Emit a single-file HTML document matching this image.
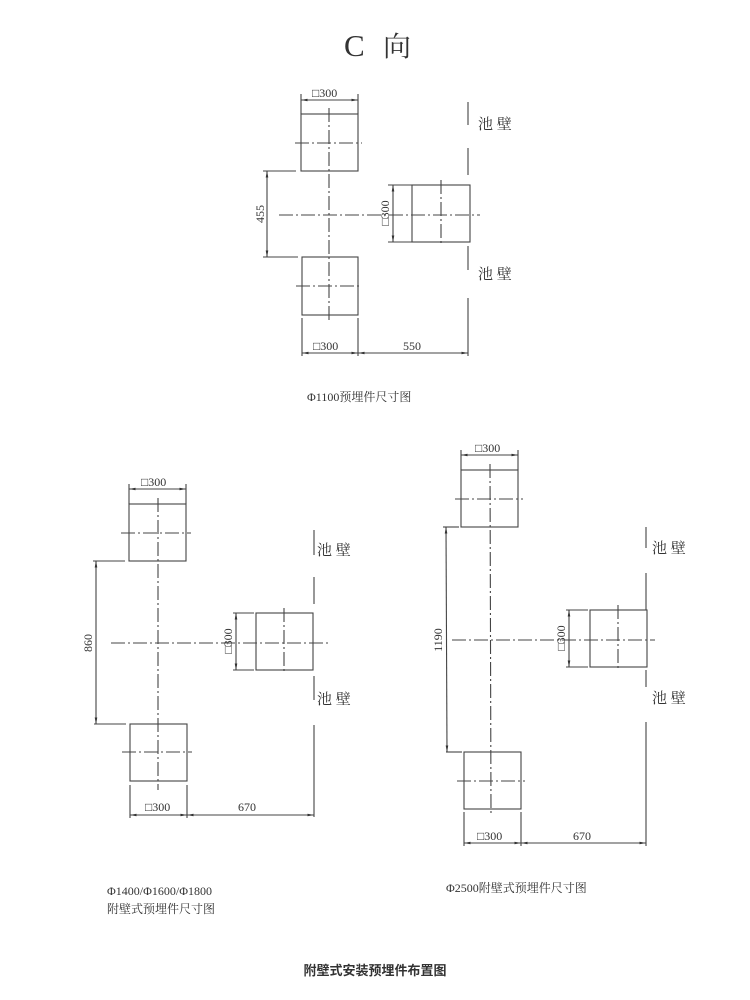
<!DOCTYPE html>
<html><head><meta charset="utf-8"><style>
body{margin:0;background:#fff}
svg{display:block}
text{font-family:"Liberation Serif","Noto Serif CJK SC",serif;fill:#333}
</style></head><body>
<svg width="750" height="1000" viewBox="0 0 750 1000" xmlns="http://www.w3.org/2000/svg">
<defs>
<marker id="a" viewBox="0 0 10 10" refX="10" refY="5" markerWidth="6" markerHeight="6" orient="auto-start-reverse"><path d="M0,3L10,5L0,7z" fill="#333"/></marker>
</defs>
<g stroke="#444" stroke-width="1.1" fill="none">
<!-- Diagram 1 -->
<rect x="301" y="114" width="57" height="57"/>
<rect x="412" y="185" width="58" height="57"/>
<rect x="302" y="257" width="56" height="58"/>
<g stroke-dasharray="14,3,2,3">
<line x1="329" y1="108" x2="329" y2="320"/>
<line x1="279" y1="215" x2="480" y2="215"/>
<line x1="295" y1="143" x2="362" y2="143"/>
<line x1="296" y1="286" x2="362" y2="286"/>
<line x1="441" y1="180" x2="441" y2="246"/>
</g>
<line x1="468" y1="102" x2="468" y2="125"/><line x1="468" y1="148" x2="468" y2="175"/>
<line x1="468" y1="246" x2="468" y2="270"/><line x1="468" y1="298" x2="468" y2="356"/>
<line x1="301" y1="94" x2="301" y2="114"/><line x1="358" y1="94" x2="358" y2="114"/>
<line x1="301" y1="100" x2="358" y2="100" marker-start="url(#a)" marker-end="url(#a)"/>
<line x1="263" y1="171" x2="296" y2="171"/><line x1="263" y1="257" x2="298" y2="257"/>
<line x1="267" y1="171" x2="267" y2="257" marker-start="url(#a)" marker-end="url(#a)"/>
<line x1="388" y1="185" x2="412" y2="185"/><line x1="388" y1="242" x2="412" y2="242"/>
<line x1="393" y1="185" x2="393" y2="242" marker-start="url(#a)" marker-end="url(#a)"/>
<line x1="302" y1="318" x2="302" y2="356"/><line x1="358" y1="318" x2="358" y2="356"/>
<line x1="302" y1="353" x2="358" y2="353" marker-start="url(#a)" marker-end="url(#a)"/>
<line x1="358" y1="353" x2="468" y2="353" marker-start="url(#a)" marker-end="url(#a)"/>
<!-- Diagram 2 -->
<rect x="129" y="504" width="57" height="57"/>
<rect x="256" y="613" width="57" height="57"/>
<rect x="130" y="724" width="57" height="57"/>
<g stroke-dasharray="14,3,2,3">
<line x1="158" y1="498" x2="158" y2="790"/>
<line x1="111" y1="643" x2="330" y2="643"/>
<line x1="121" y1="533" x2="191" y2="533"/>
<line x1="122" y1="752" x2="192" y2="752"/>
<line x1="284" y1="608" x2="284" y2="673"/>
</g>
<line x1="314" y1="530" x2="314" y2="555"/><line x1="314" y1="577" x2="314" y2="604"/>
<line x1="314" y1="676" x2="314" y2="700"/><line x1="314" y1="725" x2="314" y2="817"/>
<line x1="129" y1="484" x2="129" y2="504"/><line x1="186" y1="484" x2="186" y2="504"/>
<line x1="129" y1="489" x2="186" y2="489" marker-start="url(#a)" marker-end="url(#a)"/>
<line x1="93" y1="561" x2="125" y2="561"/><line x1="94" y1="724" x2="126" y2="724"/>
<line x1="96" y1="561" x2="96" y2="724" marker-start="url(#a)" marker-end="url(#a)"/>
<line x1="233" y1="613" x2="254" y2="613"/><line x1="233" y1="670" x2="254" y2="670"/>
<line x1="236" y1="613" x2="236" y2="670" marker-start="url(#a)" marker-end="url(#a)"/>
<line x1="130" y1="785" x2="130" y2="818"/><line x1="187" y1="785" x2="187" y2="818"/>
<line x1="130" y1="815" x2="187" y2="815" marker-start="url(#a)" marker-end="url(#a)"/>
<line x1="187" y1="815" x2="314" y2="815" marker-start="url(#a)" marker-end="url(#a)"/>
<!-- Diagram 3 -->
<rect x="461" y="470" width="57" height="57"/>
<rect x="590" y="610" width="57" height="57"/>
<rect x="464" y="752" width="57" height="57"/>
<g stroke-dasharray="14,3,2,3">
<line x1="490" y1="464" x2="491" y2="815"/>
<line x1="452" y1="640" x2="655" y2="640"/>
<line x1="455" y1="499" x2="523" y2="499"/>
<line x1="457" y1="781" x2="525" y2="781"/>
<line x1="618" y1="605" x2="618" y2="670"/>
</g>
<line x1="646" y1="527" x2="646" y2="548"/><line x1="646" y1="573" x2="646" y2="610"/>
<line x1="646" y1="670" x2="646" y2="687"/><line x1="646" y1="722" x2="646" y2="846"/>
<line x1="461" y1="450" x2="461" y2="470"/><line x1="518" y1="450" x2="518" y2="470"/>
<line x1="461" y1="455" x2="518" y2="455" marker-start="url(#a)" marker-end="url(#a)"/>
<line x1="443" y1="527" x2="459" y2="527"/><line x1="446" y1="752" x2="462" y2="752"/>
<line x1="446" y1="527" x2="447" y2="752" marker-start="url(#a)" marker-end="url(#a)"/>
<line x1="566" y1="610" x2="588" y2="610"/><line x1="566" y1="667" x2="588" y2="667"/>
<line x1="569" y1="610" x2="569" y2="667" marker-start="url(#a)" marker-end="url(#a)"/>
<line x1="464" y1="812" x2="464" y2="846"/><line x1="521" y1="812" x2="521" y2="846"/>
<line x1="464" y1="843" x2="521" y2="843" marker-start="url(#a)" marker-end="url(#a)"/>
<line x1="521" y1="843" x2="646" y2="843" marker-start="url(#a)" marker-end="url(#a)"/>
</g>
<g font-size="12">
<text x="344" y="56" font-size="31" fill="#222">C</text>
<text x="383" y="56" font-size="28" fill="#222">向</text>
<text x="312" y="97">□300</text>
<text x="478" y="129" font-size="15">池 壁</text>
<text x="478" y="279" font-size="15">池 壁</text>
<text transform="translate(264,214) rotate(-90)" text-anchor="middle">455</text>
<text transform="translate(389,213) rotate(-90)" text-anchor="middle">□300</text>
<text x="313" y="350">□300</text>
<text x="403" y="350">550</text>
<text x="307" y="401">Φ1100预埋件尺寸图</text>
<text x="141" y="486">□300</text>
<text x="317" y="555" font-size="15">池 壁</text>
<text x="317" y="704" font-size="15">池 壁</text>
<text transform="translate(92,643) rotate(-90)" text-anchor="middle">860</text>
<text transform="translate(232,641) rotate(-90)" text-anchor="middle">□300</text>
<text x="145" y="811">□300</text>
<text x="238" y="811">670</text>
<text x="107" y="895">Φ1400/Φ1600/Φ1800</text>
<text x="107" y="913">附壁式预埋件尺寸图</text>
<text x="475" y="452">□300</text>
<text x="652" y="553" font-size="15">池 壁</text>
<text x="652" y="703" font-size="15">池 壁</text>
<text transform="translate(442,640) rotate(-90)" text-anchor="middle">1190</text>
<text transform="translate(565,638) rotate(-90)" text-anchor="middle">□300</text>
<text x="477" y="840">□300</text>
<text x="573" y="840">670</text>
<text x="446" y="892">Φ2500附壁式预埋件尺寸图</text>
<text x="375" y="975" text-anchor="middle" font-size="13" font-weight="bold" style="font-family:'Liberation Sans','Noto Sans CJK SC',sans-serif" fill="#111">附壁式安装预埋件布置图</text>
</g>
</svg>
</body></html>
